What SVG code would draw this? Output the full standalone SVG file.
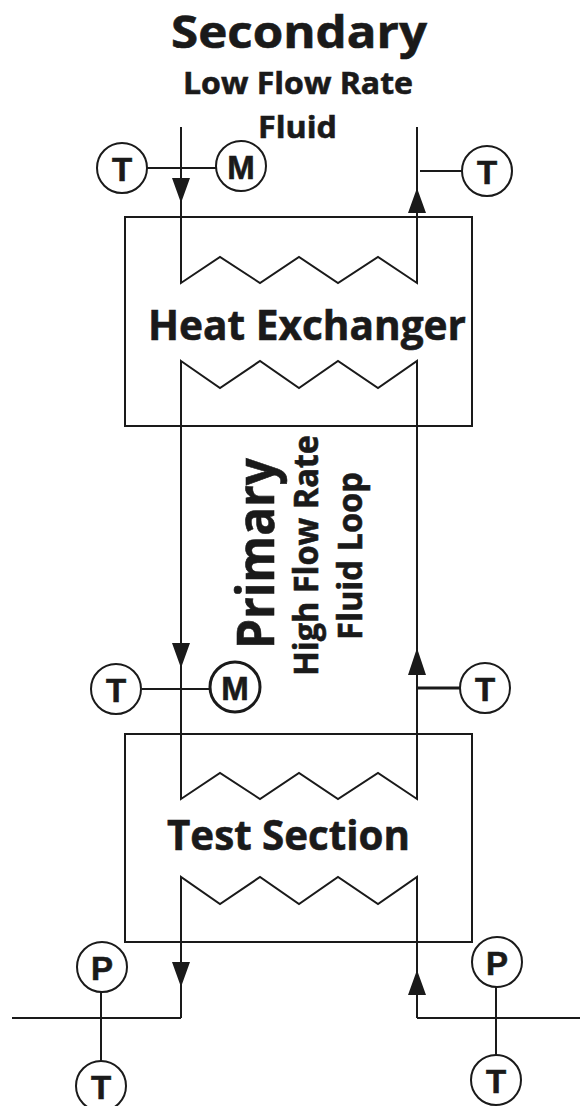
<svg xmlns="http://www.w3.org/2000/svg" width="580" height="1106" viewBox="0 0 580 1106">
<style>
.l{fill:none;stroke:#1a1a1a;stroke-width:2}
.c{fill:#fff;stroke:#1a1a1a;stroke-width:2}
.a{fill:#1a1a1a;stroke:none}
text{font-family:"Open Sans","Liberation Sans",sans-serif;font-weight:700;fill:#1a1a1a;stroke:#1a1a1a;stroke-width:.6;text-anchor:start}
.n{font-family:"Liberation Sans",Arial,sans-serif;font-size:33px;text-anchor:middle}
.h{font-size:41px}
.s{font-size:31px}
.v{font-size:34px}
.big{font-size:52px}
</style>
<rect width="580" height="1106" fill="#fff"/>
<g id="connectors">
<path class="l" d="M181 127V283L220 257L260 283L299 257L338 283L378 257L417 283V127"/>
<path class="l" d="M181 1018V877L220 904L260 877L299 904L338 877L378 904L417 877V1018"/>
<path class="l" d="M181 361L220 388L260 361L299 388L338 361L378 388L417 361V799L378 773L338 799L299 773L260 799L220 773L181 799V361Z"/>
<path class="l" d="M147 168H216M420 171H462M142 689H209"/>
<path class="l" d="M417 688H460" style="stroke-width:3"/>
<path class="l" d="M12 1018H181M417 1018H580M101 992V1061M496 987V1055"/>
<path class="a" d="M172 178H190L181 203ZM172 962H190L181 987ZM172 643H190L181 668ZM408 213L417 188L426 213ZM408 675L417 648L426 675ZM408 995L417 970L426 995Z"/>
</g>
<g id="heat-exchanger"><rect class="l" x="125" y="217" width="347" height="209"/><text class="h" x="148" y="340" textLength="318" lengthAdjust="spacingAndGlyphs">Heat Exchanger</text></g>
<g id="test-section"><rect class="l" x="125" y="734" width="347" height="208"/><text class="h" x="167" y="850" textLength="243" lengthAdjust="spacingAndGlyphs">Test Section</text></g>
<g id="title"><text x="171" y="48" style="font-size:44.8px" textLength="256" lengthAdjust="spacingAndGlyphs">Secondary</text><text class="s" x="183" y="94" textLength="230" lengthAdjust="spacingAndGlyphs">Low Flow Rate</text><text class="s" x="258" y="138" textLength="79" lengthAdjust="spacingAndGlyphs">Fluid</text></g>
<g id="primary"><text class="big" transform="translate(274 649) rotate(-90)" textLength="191" lengthAdjust="spacingAndGlyphs">Primary</text><text class="v" transform="translate(318 676) rotate(-90)" textLength="241" lengthAdjust="spacingAndGlyphs">High Flow Rate</text><text class="v" transform="translate(362 640) rotate(-90)" textLength="168" lengthAdjust="spacingAndGlyphs">Fluid Loop</text></g>
<g id="t1"><circle class="c" cx="122" cy="168" r="25"/><text class="n" x="122" y="181">T</text></g>
<g id="m1"><circle class="c" cx="241" cy="166" r="25"/><text class="n" x="241" y="179">M</text></g>
<g id="t2"><circle class="c" cx="487" cy="171" r="25"/><text class="n" x="487" y="184">T</text></g>
<g id="t3"><circle class="c" cx="116" cy="689" r="25"/><text class="n" x="116" y="702">T</text></g>
<g id="m2"><circle class="c" cx="235" cy="687" r="25" style="stroke-width:3"/><text class="n" x="235" y="700">M</text></g>
<g id="t4"><circle class="c" cx="485" cy="688" r="25"/><text class="n" x="485" y="701">T</text></g>
<g id="p1"><circle class="c" cx="102" cy="967" r="25"/><text class="n" x="102" y="980">P</text></g>
<g id="p2"><circle class="c" cx="497" cy="962" r="25"/><text class="n" x="497" y="975">P</text></g>
<g id="t5"><circle class="c" cx="101" cy="1086" r="25"/><text class="n" x="101" y="1099">T</text></g>
<g id="t6"><circle class="c" cx="496" cy="1080" r="25"/><text class="n" x="496" y="1093">T</text></g>
</svg>
